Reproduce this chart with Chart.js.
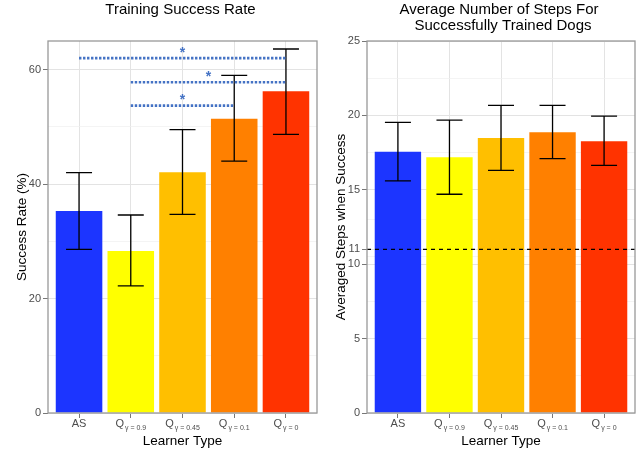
<!DOCTYPE html>
<html>
<head>
<meta charset="utf-8">
<script src="https://cdn.jsdelivr.net/npm/chart.js@4/dist/chart.umd.min.js"></script>
<style>
  body { margin: 0; background: #fff; }
  #wrap { position: relative; width: 639px; height: 450px; }
  canvas { position: absolute; top: 0; }
</style>
</head>
<body>
<div id="wrap">
  <canvas id="rate" width="320" height="450" style="left:0"></canvas>
  <canvas id="steps" width="319" height="450" style="left:320px"></canvas>
</div>
<script>
const learners = ['AS', 'Q γ = 0.9', 'Q γ = 0.45', 'Q γ = 0.1', 'Q γ = 0'];
const learnerMain = ['AS', 'Q', 'Q', 'Q', 'Q'];
const learnerSub = ['', 'γ = 0.9', 'γ = 0.45', 'γ = 0.1', 'γ = 0'];
const barColors = ['#1c35ff', '#ffff00', '#ffbf00', '#ff8000', '#ff3300'];

// training success rate (%)
const rateMean = [35.3, 28.3, 42.05, 51.4, 56.2];
const rateLow = [28.6, 22.2, 34.7, 44.0, 48.7];
const rateHigh = [42.0, 34.6, 49.5, 59.0, 63.6];
const rateTicks = [0, 20, 40, 60];
const rateMinor = [10, 30, 50];
// significance brackets: [from, to, height]
const sigLines = [[0, 4, 62.0], [1, 4, 57.8], [1, 3, 53.7]];

// average steps for successful dogs
const stepsMean = [17.56, 17.18, 18.48, 18.86, 18.27];
const stepsLow = [15.6, 14.7, 16.3, 17.1, 16.64];
const stepsHigh = [19.53, 19.68, 20.67, 20.67, 19.95];
const stepsTicks = [0, 5, 10, 11, 15, 20, 25];
const stepsMinor = [2.5, 7.5, 10.5, 13, 17.5, 22.5];
const stepsRef = 11;

const FONT = '"Liberation Sans", Arial, sans-serif';

function decor(opts) {
  return {
    id: 'decor',
    afterDatasetsDraw(chart) {
      const ctx = chart.ctx, x = chart.scales.x, y = chart.scales.y, a = chart.chartArea;
      ctx.save();
      if (opts.ref != null) {
        const ry = y.getPixelForValue(opts.ref);
        ctx.strokeStyle = '#000';
        ctx.lineWidth = 1.2;
        ctx.setLineDash([4, 4]);
        ctx.beginPath();
        ctx.moveTo(a.left, ry); ctx.lineTo(a.right, ry);
        ctx.stroke();
        ctx.setLineDash([]);
      }
      // error bars
      ctx.strokeStyle = '#000';
      ctx.lineWidth = 1.3;
      opts.low.forEach((lo, i) => {
        const cx = x.getPixelForValue(i);
        const y0 = y.getPixelForValue(lo), y1 = y.getPixelForValue(opts.high[i]);
        ctx.beginPath();
        ctx.moveTo(cx, y0); ctx.lineTo(cx, y1);
        ctx.moveTo(cx - 13, y0); ctx.lineTo(cx + 13, y0);
        ctx.moveTo(cx - 13, y1); ctx.lineTo(cx + 13, y1);
        ctx.stroke();
      });
      // significance lines
      if (opts.sig) {
        ctx.strokeStyle = '#4472c4';
        ctx.fillStyle = '#4472c4';
        ctx.lineWidth = 2.6;
        ctx.font = 'bold 14px ' + FONT;
        ctx.textAlign = 'center';
        ctx.textBaseline = 'alphabetic';
        opts.sig.forEach(([from, to, h]) => {
          const x0 = x.getPixelForValue(from), x1 = x.getPixelForValue(to), sy = y.getPixelForValue(h);
          ctx.setLineDash([2.4, 1.6]);
          ctx.beginPath();
          ctx.moveTo(x0, sy); ctx.lineTo(x1, sy);
          ctx.stroke();
          ctx.setLineDash([]);
          ctx.fillText('*', (x0 + x1) / 2, sy - 1.5);
        });
      }
      // panel border
      ctx.strokeStyle = '#999';
      ctx.lineWidth = 1.3;
      ctx.strokeRect(a.left, a.top, a.right - a.left, a.bottom - a.top);
      ctx.restore();
    },
    afterDraw(chart) {
      const ctx = chart.ctx, x = chart.scales.x, a = chart.chartArea;
      ctx.save();
      // title
      ctx.fillStyle = '#000';
      ctx.font = '15px ' + FONT;
      ctx.textAlign = 'center';
      ctx.textBaseline = 'middle';
      const mid = (a.left + a.right) / 2;
      opts.title.forEach((t, i) => ctx.fillText(t, mid + (opts.title.length > 1 ? (i ? 2 : -2) : -2), 10 + i * 15.5));
      // category labels with subscripts
      ctx.fillStyle = '#4d4d4d';
      ctx.textAlign = 'left';
      ctx.textBaseline = 'alphabetic';
      learnerMain.forEach((m, i) => {
        const cx = x.getPixelForValue(i);
        ctx.font = '11px ' + FONT;
        const w1 = ctx.measureText(m).width;
        ctx.font = '7px ' + FONT;
        const w2 = learnerSub[i] ? ctx.measureText(learnerSub[i]).width + 1 : 0;
        const sx = cx - (w1 + w2) / 2;
        ctx.font = '11px ' + FONT;
        ctx.fillText(m, sx, a.bottom + 14);
        if (learnerSub[i]) {
          ctx.font = '7px ' + FONT;
          ctx.fillText(learnerSub[i], sx + w1 + 1, a.bottom + 16.5);
        }
      });
      ctx.restore();
    }
  };
}

function makeChart(id, cfg) {
  const isMajor = v => cfg.ticks.includes(v);
  return new Chart(document.getElementById(id), {
    type: 'bar',
    data: {
      labels: learners,
      datasets: [{
        data: cfg.mean.map((v, i) => ({ x: i, y: v })),
        backgroundColor: barColors,
        borderWidth: 0,
        barPercentage: 0.9,
        categoryPercentage: 1
      }]
    },
    options: {
      responsive: false,
      animation: false,
      devicePixelRatio: 1,
      layout: { padding: { top: 41, right: cfg.padRight, bottom: 0, left: 0 } },
      plugins: { legend: { display: false }, tooltip: { enabled: false } },
      scales: {
        x: {
          type: 'linear',
          min: -0.6,
          max: 4.6,
          offset: false,
          afterBuildTicks: s => { s.ticks = learners.map((_, i) => ({ value: i })); },
          afterFit: s => { s.height = 37; },
          ticks: { callback: () => '', padding: 0 },
          grid: { offset: false, color: '#e3e3e3', lineWidth: 1, tickLength: 5, tickColor: '#777' },
          border: { display: false },
          title: { display: true, text: 'Learner Type', color: '#000', font: { size: 13.5, family: FONT }, padding: { top: 0, bottom: 1 } }
        },
        y: {
          min: 0,
          max: cfg.max,
          afterBuildTicks: s => { s.ticks = cfg.ticks.concat(cfg.minor).sort((p, q) => p - q).map(v => ({ value: v })); },
          afterFit: s => { s.width = cfg.axisWidth; },
          ticks: {
            callback: v => isMajor(v) ? String(v) : '',
            color: '#4d4d4d',
            font: { size: 11, family: FONT },
            padding: 2
          },
          grid: {
            color: c => isMajor(c.tick.value) ? '#e3e3e3' : '#efefef',
            lineWidth: c => isMajor(c.tick.value) ? 1 : 0.7,
            tickLength: 5,
            tickColor: c => isMajor(c.tick.value) ? '#777' : 'rgba(0,0,0,0)'
          },
          border: { display: false },
          title: { display: true, text: cfg.yTitle, color: '#000', font: { size: 13.5, family: FONT }, padding: { top: cfg.titlePad, bottom: 0 } }
        }
      }
    },
    plugins: [decor({ low: cfg.low, high: cfg.high, sig: cfg.sig, ref: cfg.ref, title: cfg.title })]
  });
}

makeChart('rate', {
  mean: rateMean, low: rateLow, high: rateHigh, ticks: rateTicks, minor: rateMinor,
  max: 65, axisWidth: 48, padRight: 3, titlePad: 14,
  yTitle: 'Success Rate (%)', title: ['Training Success Rate'], sig: sigLines
});

makeChart('steps', {
  mean: stepsMean, low: stepsLow, high: stepsHigh, ticks: stepsTicks, minor: stepsMinor,
  max: 25, axisWidth: 47, padRight: 4, titlePad: 13,
  yTitle: 'Averaged Steps when Success', title: ['Average Number of Steps For', 'Successfully Trained Dogs'], ref: stepsRef
});
</script>
</body>
</html>
